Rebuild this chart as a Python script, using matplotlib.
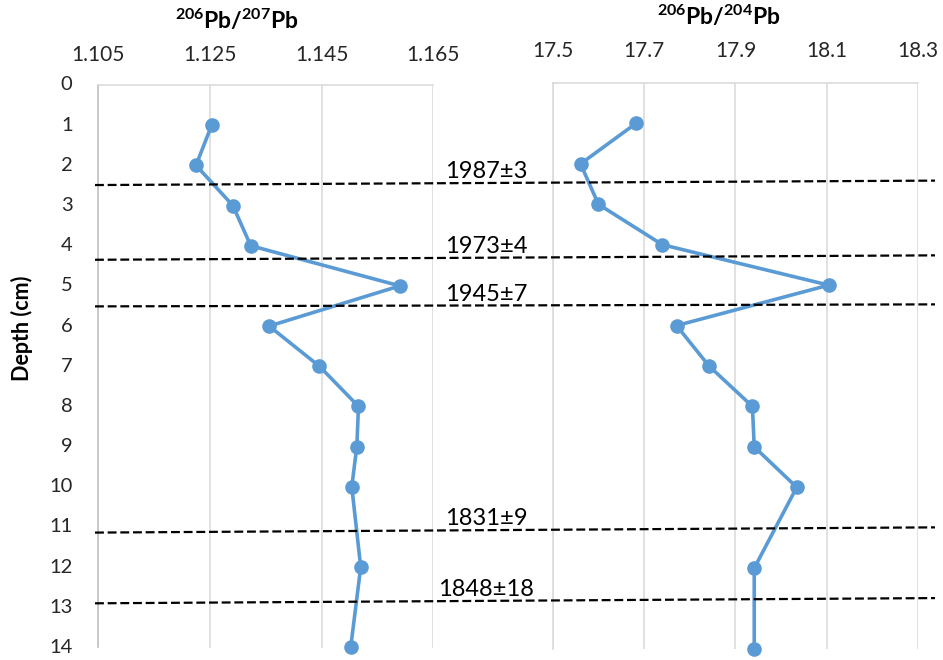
import matplotlib
matplotlib.use('Agg')
import matplotlib.pyplot as plt
from matplotlib.lines import Line2D
import matplotlib.transforms as mtransforms

# ---------------- data ----------------
depth = [1, 2, 3, 4, 5, 6, 7, 8, 9, 10, 12, 14]
pb206_207 = [1.1253, 1.1225, 1.1291, 1.1323, 1.1590, 1.1356, 1.1446,
             1.1516, 1.1513, 1.1504, 1.1520, 1.1502]
pb206_204 = [17.682, 17.561, 17.600, 17.740, 18.104, 17.771, 17.842,
             17.937, 17.941, 18.034, 17.941, 17.941]
x1_ticks = [1.105, 1.125, 1.145, 1.165]
x2_ticks = [17.5, 17.7, 17.9, 18.1, 18.3]
y_ticks = list(range(0, 15))
date_labels = ['1987±3', '1973±4', '1945±7', '1831±9', '1848±18']
date_depth_left = [2.49, 4.35, 5.51, 11.14, 12.90]
date_depth_right = [2.38, 4.24, 5.46, 11.01, 12.77]

# ---------------- style ----------------
plt.rcParams['font.family'] = ['Lato', 'DejaVu Sans']
plt.rcParams['mathtext.fontset'] = 'custom'
plt.rcParams['mathtext.rm'] = 'Lato'
plt.rcParams['mathtext.bf'] = 'Lato:bold'

W, H = 943, 660
fig = plt.figure(figsize=(W / 100, H / 100), dpi=100)
fig.patch.set_facecolor('white')

blue = '#5b9bd5'
grid_c = '#d9d9d9'
spine_c = '#bfbfbf'
tick_c = '#262626'

ax1 = fig.add_axes([98.3 / W, 1 - 647.5 / H, (433.3 - 98.3) / W, (647.5 - 85) / H])
ax2 = fig.add_axes([552.7 / W, 1 - 649 / H, (918.3 - 552.7) / W, (649 - 83) / H])

for ax, xs, ticks, fmt, pad in [(ax1, pb206_207, x1_ticks, '{:.3f}', 14.5),
                                (ax2, pb206_204, x2_ticks, '{:.1f}', 16)]:
    ax.plot(xs, depth, color=blue, lw=2.6, marker='o', ms=9.5,
            markerfacecolor=blue, markeredgecolor=blue, zorder=3,
            solid_joinstyle='round', clip_on=False)
    ax.set_xlim(ticks[0], ticks[-1])
    ax.set_ylim(14, 0)
    ax.set_xticks(ticks)
    ax.set_xticklabels([fmt.format(t) for t in ticks])
    ax.xaxis.tick_top()
    ax.tick_params(axis='x', length=0, pad=pad, labelsize=15, labelcolor=tick_c)
    ax.grid(axis='x', color=grid_c, lw=1.1)
    ax.set_axisbelow(True)
    for s in ['bottom', 'right']:
        ax.spines[s].set_visible(False)
    ax.spines['top'].set_color(grid_c)
    ax.spines['top'].set_linewidth(1.1)
    ax.spines['left'].set_linewidth(1.1)

ax1.spines['left'].set_color(spine_c)
ax2.spines['left'].set_color(grid_c)

ax1.set_yticks(y_ticks)
ax1.set_yticklabels([str(v) for v in y_ticks])
ax1.tick_params(axis='y', length=0, pad=18.5, labelsize=14.5, labelcolor=tick_c)
for t in ax1.get_yticklabels():
    t.set_verticalalignment('center')
ax2.set_yticks(y_ticks)
ax2.tick_params(axis='y', length=0, labelleft=False)

# axis titles
fig.text(237 / W, 1 - 29 / H, r'$\mathbf{^{206}Pb/^{207}Pb}$', ha='center',
         va='baseline', fontsize=16.5)
fig.text(719 / W, 1 - 25 / H, r'$\mathbf{^{206}Pb/^{204}Pb}$', ha='center',
         va='baseline', fontsize=16.5)
fig.text(22 / W, 1 - 328 / H, 'Depth (cm)', rotation=90, ha='center',
         va='center', fontsize=15.5, fontweight='bold')

# dashed date horizons
trans = mtransforms.blended_transform_factory(fig.transFigure, ax1.transData)
x_left, x_right = 95 / W, 935 / W
for lab, dl, dr in zip(date_labels, date_depth_left, date_depth_right):
    ln = Line2D([x_left, x_right], [dl, dr], transform=trans, color='black',
                lw=1.6, linestyle=(0, (4, 1.7)), clip_on=False, zorder=5)
    fig.add_artist(ln)
    dm = dl + (dr - dl) * (486 / W - x_left) / (x_right - x_left)
    fig.add_artist(
        matplotlib.text.Annotation(lab, xy=(486 / W, dm), xycoords=trans,
                                   xytext=(0, 3.5), textcoords='offset points',
                                   ha='center', va='baseline', fontsize=17,
                                   color='black', zorder=6))

fig.savefig('out.png', dpi=100, facecolor='white')
